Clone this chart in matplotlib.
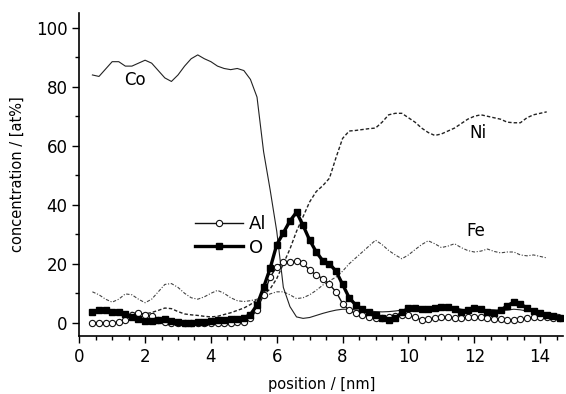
import numpy as np
import matplotlib
matplotlib.use('Agg')
import matplotlib.pyplot as plt
from matplotlib.ticker import MultipleLocator

plt.rcParams['font.family'] = ['DejaVu Sans']

# position grid [nm], 0.2 nm steps
position = np.round(np.arange(0.4, 14.61, 0.2), 1)

co = [84, 83.5, 86, 88.5, 88.5, 87, 87, 88, 89, 88, 85.5, 83, 81.8, 84, 87, 89.5,
      90.8, 89.5, 88.5, 87, 86.2, 85.8, 86.2, 85.5, 82.5, 76.5, 58, 45, 31, 12, 5.5, 2,
      1.5, 1.8, 2.5, 3.2, 3.8, 4.3, 4.6, 4.6, 4.4, 4.2, 4, 3.8, 3.7, 3.8, 4, 4.3,
      4.5, 4.8, 5, 5.2, 5.6, 5.8, 5.8, 5.2, 4.6, 4.2, 4.0, 4.2, 4.5, 4.4, 4.2, 4.3,
      4.6, 4.4, 4.0, 3.7, 3.4, 3.2, 3.0, 2.8]

ni = [3, 3.5, 3.5, 3, 3, 3.2, 3.5, 3.2, 3.0, 3.5, 4.2, 5, 4.8, 3.8, 3.0, 2.7,
      2.5, 2.2, 2.0, 2.2, 2.8, 3.4, 4.2, 5.0, 6.2, 7.8, 9.5, 11.5, 15, 20, 25, 31,
      36, 41, 44.5, 46.5, 49, 56, 62.5, 65, 65.2, 65.5, 65.8, 66, 68, 70.5, 71, 71,
      69.5, 68, 66, 64.5, 63.5, 64, 65, 66, 67.5, 69, 70, 70.5, 70, 69.5, 69, 68,
      67.8, 67.8, 69.5, 70.5, 71, 71.5, np.nan, np.nan]

fe = [10.5, 9.5, 8, 7, 8, 9.8, 9.5, 8, 6.8, 8, 10.5, 13, 13.3, 12, 10, 8.5,
      8, 8.8, 10, 11, 10, 8.5, 7.5, 7.2, 7.5, 8, 8.8, 9.8, 10.5, 10.5, 9.5, 8.2,
      8.5, 9.5, 11, 12.8, 14.2, 15.5, 17.5, 20, 22, 24, 26, 28, 26.5, 24.5, 23, 21.7,
      23, 24.8, 26.5, 27.8, 26.8, 25.5, 26, 26.8, 25.5, 24.5, 24, 24.3, 25, 24.2, 23.7, 24,
      24, 23, 22.7, 23, 22.5, 22, np.nan, np.nan]

al = [0, 0, 0, 0, 0.2, 1.0, 2.8, 3.2, 2.8, 2.2, 1.0, 0.2, 0, 0, 0, 0,
      0, 0, 0, 0, 0, 0.1, 0.2, 0.3, 1.5, 4.5, 9.5, 15.5, 19, 20.5, 20.5, 20.8,
      20.2, 17.8, 16.2, 15, 13, 10.5, 6.5, 4.2, 3.2, 2.6, 2, 1.7, 1.6, 1.8, 2.2, 2.6,
      2.6, 1.8, 1, 1.2, 1.6, 1.8, 1.8, 1.6, 1.5, 1.8, 2, 1.8, 1.5, 1.3, 1.2, 1.0,
      1.0, 1.2, 1.5, 1.8, 2, 1.8, 1.7, 1.5]

o = [3.5, 4.5, 4.5, 3.7, 3.5, 3.0, 2.0, 1.2, 0.5, 0.5, 1.0, 1.2, 0.5, 0.2, 0.1, 0,
     0.2, 0.4, 0.6, 0.8, 1.0, 1.2, 1.4, 1.7, 2.8, 6, 12, 18.5, 26.5, 30.5, 34.5, 37.5,
     33, 28, 24, 21, 20, 17.5, 13, 8.5, 6, 4.6, 3.5, 2.5, 1.6, 1, 1.5, 3.5,
     5, 5, 4.8, 4.6, 5, 5.4, 5.2, 4.6, 3.8, 4.2, 5, 4.6, 3.6, 3.4, 4.2, 5.8,
     7, 6.4, 5, 4, 3.4, 2.8, 2.2, 1.5]

fig = plt.figure(figsize=(5.66, 3.94), dpi=100)
ax = fig.add_axes([0.14, 0.147, 0.855, 0.82])

ax.plot(position, fe, color='#444444', lw=0.8, linestyle=(0, (3, 1.5, 1, 1.5)))
ax.plot(position, ni, color='#222222', lw=1.0, linestyle=(0, (2.5, 1.5)))
ax.plot(position, co, color='#222222', lw=0.8)
al_line, = ax.plot(position, al, color='#111111', lw=1.0, marker='o', ms=4.5,
                   mfc='white', mec='#111111', mew=0.8, label='Al')
o_line, = ax.plot(position, o, color='black', lw=2.4, marker='s', ms=4.2,
                  mfc='black', mec='black', label='O')

ax.text(1.35, 82.4, 'Co', fontsize=12, va='center')
ax.text(11.85, 64.4, 'Ni', fontsize=12, va='center')
ax.text(11.75, 31, 'Fe', fontsize=12, va='center')

leg = ax.legend(handles=[al_line, o_line], loc='center left',
                bbox_to_anchor=(0.205, 0.31), frameon=False, fontsize=13,
                handlelength=2.7, handletextpad=0.3, labelspacing=0.3)

ax.set_xlim(0, 14.7)
ax.set_ylim(-4.5, 105)
ax.xaxis.set_major_locator(MultipleLocator(2))
ax.xaxis.set_minor_locator(MultipleLocator(0.5))
ax.yaxis.set_major_locator(MultipleLocator(20))
ax.yaxis.set_minor_locator(MultipleLocator(10))
ax.tick_params(which='major', direction='out', length=5, width=1, labelsize=12)
ax.tick_params(which='minor', direction='out', length=3, width=1)
ax.spines['top'].set_visible(False)
ax.spines['right'].set_visible(False)
ax.spines['left'].set_linewidth(1.2)
ax.spines['bottom'].set_linewidth(1.2)

ax.set_xlabel('position / [nm]', fontsize=10.5, labelpad=8)
ax.set_ylabel('concentration / [at%]', fontsize=10.5, labelpad=8)

fig.savefig('out.png', dpi=100)
